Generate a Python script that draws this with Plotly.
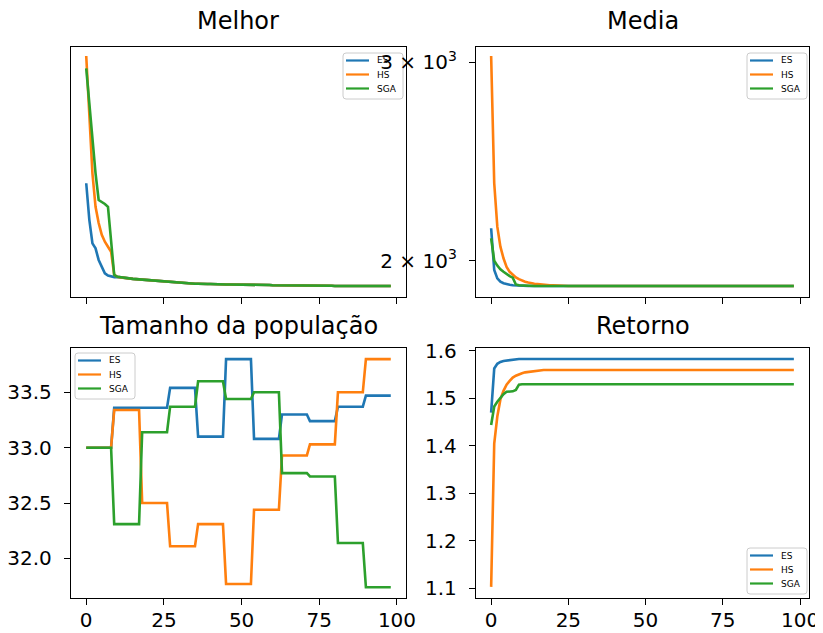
import plotly.graph_objects as go

# ---------------- data ----------------
GEN = list(range(99))
SERIES = ["ES", "HS", "SGA"]
COLORS = {"ES": "#1f77b4", "HS": "#ff7f0e", "SGA": "#2ca02c"}

# Melhor (best fitness) - head values x=0..9, then common tail x=10..98
MELHOR_TAIL = [1935, 1933, 1931, 1929, 1928, 1927, 1926, 1925, 1924, 1923,
               1921, 1920, 1919, 1918, 1917, 1915, 1914, 1913, 1912, 1911,
               1910, 1910, 1909, 1909, 1908, 1908, 1908, 1907, 1907, 1907,
               1907, 1906, 1906, 1906, 1906, 1905, 1905, 1905, 1905, 1905,
               1904, 1904, 1904, 1904, 1904, 1903, 1903, 1903, 1903, 1903,
               1902, 1902, 1902, 1902, 1902, 1902, 1901, 1901, 1901, 1901,
               1901, 1901, 1900, 1900, 1900, 1900, 1900, 1900, 1900, 1900,
               1899, 1899, 1899, 1899, 1899, 1899, 1899, 1899, 1899, 1899,
               1899, 1899, 1899, 1899, 1899, 1899, 1899, 1899, 1899]
MELHOR_ES = [2343, 2174, 2072, 2051, 2003, 1975, 1949, 1940, 1936, 1934] + MELHOR_TAIL
MELHOR_HS = [3039, 2666, 2391, 2233, 2160, 2109, 2079, 2058, 2037, 1943] + MELHOR_TAIL
MELHOR_SGA = [2963, 2759, 2560, 2391, 2264, 2256, 2246, 2233, 2086, 1943] + MELHOR_TAIL

# Media (mean fitness)
MEDIA_ES_HEAD = [2137, 1962, 1929, 1916, 1910, 1906, 1904, 1902, 1901, 1900]
MEDIA_HS_HEAD = [3039, 2343, 2144, 2058, 2010, 1975, 1955, 1942, 1933, 1926,
                 1920, 1916, 1913, 1910, 1908, 1907, 1905, 1904, 1903, 1902,
                 1902, 1901, 1901, 1900, 1900]
MEDIA_SGA_HEAD = [2094, 2000, 1980, 1965, 1955, 1945, 1938, 1932, 1905, 1902,
                  1901, 1900]
MEDIA_FINAL = 1899
MEDIA_ES = MEDIA_ES_HEAD + [MEDIA_FINAL] * (99 - len(MEDIA_ES_HEAD))
MEDIA_HS = MEDIA_HS_HEAD + [MEDIA_FINAL] * (99 - len(MEDIA_HS_HEAD))
MEDIA_SGA = MEDIA_SGA_HEAD + [MEDIA_FINAL] * (99 - len(MEDIA_SGA_HEAD))

# Tamanho da população - value held for each block of 9 generations
POP_BLOCK = 9
POP_ES = [33.00, 33.36, 33.36, 33.54, 33.10, 33.80, 33.08, 33.30, 33.24, 33.37, 33.47]
POP_HS = [33.00, 33.34, 32.50, 32.11, 32.31, 31.77, 32.44, 32.93, 33.03, 33.50, 33.80]
POP_SGA = [33.00, 32.31, 33.14, 33.37, 33.60, 33.44, 33.50, 32.77, 32.74, 32.14, 31.74]

# Retorno
RET_ES_HEAD = [1.470, 1.563, 1.573, 1.577, 1.579, 1.580, 1.581, 1.582, 1.582]
RET_ES_FINAL = 1.583
RET_HS_HEAD = [1.103, 1.405, 1.462, 1.498, 1.516, 1.529, 1.537, 1.544, 1.548,
               1.551, 1.553, 1.555, 1.556, 1.557, 1.558, 1.559]
RET_HS_FINAL = 1.560
RET_SGA_HEAD = [1.444, 1.483, 1.493, 1.502, 1.509, 1.514, 1.514, 1.515, 1.518, 1.529]
RET_SGA_FINAL = 1.530
RET_ES = RET_ES_HEAD + [RET_ES_FINAL] * (99 - len(RET_ES_HEAD))
RET_HS = RET_HS_HEAD + [RET_HS_FINAL] * (99 - len(RET_HS_HEAD))
RET_SGA = RET_SGA_HEAD + [RET_SGA_FINAL] * (99 - len(RET_SGA_HEAD))

TITLES = ["Melhor", "Media", "Tamanho da população", "Retorno"]
X_TICKS = [0, 25, 50, 75, 100]


def hold(blocks, n):
    return [v for v in blocks for _ in range(n)]


PANELS = {
    1: {"ES": MELHOR_ES, "HS": MELHOR_HS, "SGA": MELHOR_SGA},
    2: {"ES": MEDIA_ES, "HS": MEDIA_HS, "SGA": MEDIA_SGA},
    3: {"ES": hold(POP_ES, POP_BLOCK), "HS": hold(POP_HS, POP_BLOCK),
        "SGA": hold(POP_SGA, POP_BLOCK)},
    4: {"ES": RET_ES, "HS": RET_HS, "SGA": RET_SGA},
}

# ---------------- layout geometry ----------------
# The page body has an 8px margin, so the figure is made 8px smaller and all
# screen positions are measured relative to that offset.
OFF = 8
W, H = 823 - OFF, 633 - OFF
FONT = "DejaVu Sans"


def fx(px):
    return (px - OFF) / W


def fy(py):
    return 1 - (py - OFF) / H


LEFT = [fx(71), fx(406)]
RIGHT = [fx(476), fx(809)]
TOP = [fy(297), fy(47)]
BOT = [fy(598), fy(348)]

fig = go.Figure()
for k in range(1, 5):
    for s in SERIES:
        fig.add_trace(go.Scatter(
            x=GEN, y=PANELS[k][s], mode="lines", name=s,
            line=dict(color=COLORS[s], width=2.6),
            xaxis="x" if k == 1 else f"x{k}",
            yaxis="y" if k == 1 else f"y{k}",
            showlegend=False,
        ))

axis_common = dict(
    showline=True, mirror=True, linecolor="black", linewidth=1.4,
    showgrid=False, zeroline=False, ticks="outside", ticklen=6,
    tickwidth=1.4, tickcolor="black", automargin=False,
    tickfont=dict(family=FONT, size=20, color="black"),
)
xaxis_common = dict(axis_common, ticklabelstandoff=-2)
yaxis_common = dict(axis_common, ticklabelstandoff=8)
xr = [-4.9, 102.9]
log_range = [3.2688, 3.4907]

fig.update_layout(
    width=W, height=H,
    margin=dict(l=0, r=0, t=0, b=0, pad=0, autoexpand=False),
    paper_bgcolor="white", plot_bgcolor="white",
    showlegend=False,
    xaxis=dict(domain=LEFT, anchor="y", range=xr, tickvals=X_TICKS,
               showticklabels=False, **xaxis_common),
    yaxis=dict(domain=TOP, anchor="x", type="log", range=log_range,
               showticklabels=False, **{**yaxis_common, "ticks": ""}),
    xaxis2=dict(domain=RIGHT, anchor="y2", range=xr, tickvals=X_TICKS,
                showticklabels=False, **xaxis_common),
    yaxis2=dict(domain=TOP, anchor="x2", type="log", range=log_range,
                tickvals=[2000, 3000],
                ticktext=["2 × 10<sup>3</sup>", "3 × 10<sup>3</sup>"],
                **yaxis_common),
    xaxis3=dict(domain=LEFT, anchor="y3", range=xr, tickvals=X_TICKS,
                ticktext=[str(t) for t in X_TICKS], **xaxis_common),
    yaxis3=dict(domain=BOT, anchor="x3", range=[31.643, 33.900],
                tickvals=[32.0, 32.5, 33.0, 33.5],
                ticktext=["32.0", "32.5", "33.0", "33.5"], **yaxis_common),
    xaxis4=dict(domain=RIGHT, anchor="y4", range=xr, tickvals=X_TICKS,
                ticktext=[str(t) for t in X_TICKS], **xaxis_common),
    yaxis4=dict(domain=BOT, anchor="x4", range=[1.0796, 1.6063],
                tickvals=[1.1, 1.2, 1.3, 1.4, 1.5, 1.6],
                ticktext=["1.1", "1.2", "1.3", "1.4", "1.5", "1.6"],
                **yaxis_common),
)

# ---------------- titles ----------------
title_pos = [(fx(238.5), fy(21)), (fx(642.5), fy(21)),
             (fx(238.5), fy(326)), (fx(642.5), fy(326))]
for t, (tx, ty) in zip(TITLES, title_pos):
    fig.add_annotation(text=t, x=tx, y=ty, xref="paper", yref="paper",
                       xanchor="center", yanchor="middle", showarrow=False,
                       font=dict(family=FONT, size=24, color="black"))

# ---------------- legends (matplotlib-style boxes) ----------------
LEG_W, LEG_H, LEG_R = 60, 46, 3
LEG_ROWS = [7.5, 21.5, 35.5]
# top-left corners and drawing layer (the Melhor box sits under the
# neighbouring panel's tick label, as in the original)
LEG_BOXES = [(343, 53, "below"), (747, 53, "above"),
             (75, 353, "above"), (747, 548, "above")]


def rounded_path(x0, y0, x1, y1, r):
    p = [
        f"M {fx(x0 + r)},{fy(y0)}", f"L {fx(x1 - r)},{fy(y0)}",
        f"Q {fx(x1)},{fy(y0)} {fx(x1)},{fy(y0 + r)}",
        f"L {fx(x1)},{fy(y1 - r)}",
        f"Q {fx(x1)},{fy(y1)} {fx(x1 - r)},{fy(y1)}",
        f"L {fx(x0 + r)},{fy(y1)}",
        f"Q {fx(x0)},{fy(y1)} {fx(x0)},{fy(y1 - r)}",
        f"L {fx(x0)},{fy(y0 + r)}",
        f"Q {fx(x0)},{fy(y0)} {fx(x0 + r)},{fy(y0)}", "Z",
    ]
    return " ".join(p)


for bx, by, layer in LEG_BOXES:
    fig.add_shape(type="path", xref="paper", yref="paper",
                  path=rounded_path(bx, by, bx + LEG_W, by + LEG_H, LEG_R),
                  fillcolor="rgba(255,255,255,0.8)",
                  line=dict(color="#cccccc", width=1), layer=layer)
    for s, dy in zip(SERIES, LEG_ROWS):
        fig.add_shape(type="line", xref="paper", yref="paper",
                      x0=fx(bx + 3), x1=fx(bx + 26), y0=fy(by + dy), y1=fy(by + dy),
                      line=dict(color=COLORS[s], width=2.2), layer=layer)
        fig.add_annotation(text=s, x=fx(bx + 32), y=fy(by + dy), xref="paper",
                           yref="paper", xanchor="left", yanchor="middle",
                           showarrow=False,
                           font=dict(family=FONT, size=9, color="black"))

fig.write_html("out.html")
